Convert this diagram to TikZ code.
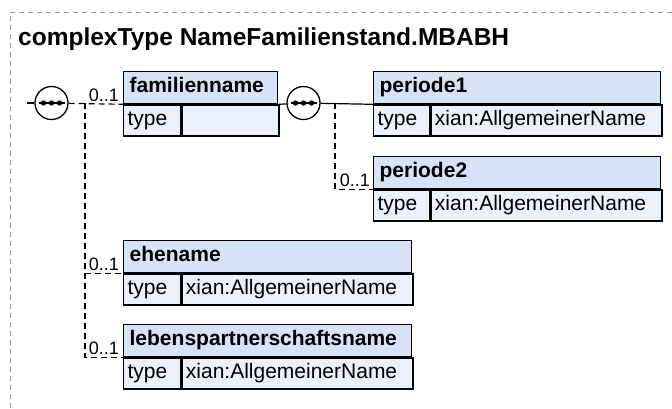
\documentclass[tikz,border=0pt]{standalone}
\usepackage{fontspec}
\setmainfont{Liberation Sans}
\usetikzlibrary{positioning}
\definecolor{headfill}{RGB}{214,227,247}
\definecolor{bodyfill}{RGB}{234,241,252}

\begin{document}
\begin{tikzpicture}[
  x=1pt,y=1pt,
  frame/.style={draw=gray!80,dash pattern=on 5pt off 4pt,line width=1pt},
  head/.style={draw,fill=headfill,anchor=north west,align=left,text width=#1,
    font=\fontsize{21}{25}\selectfont\bfseries,inner xsep=6pt,inner ysep=0pt,
    minimum height=32pt,text height=15pt,text depth=5pt,line width=1.3pt},
  cell/.style={draw,fill=bodyfill,anchor=north west,align=left,text width=#1,
    font=\fontsize{21}{25}\selectfont,inner xsep=4pt,inner ysep=0pt,
    minimum height=31pt,text height=15pt,text depth=5pt,line width=1.3pt},
  seq/.style={circle,draw,fill=white,minimum size=33pt,inner sep=0pt,line width=1.3pt},
  req/.style={line width=1.2pt},
  opt/.style={line width=1.2pt,dash pattern=on 6pt off 4pt},
  card/.style={font=\fontsize{18}{21}\selectfont,inner sep=0pt}
]
  \useasboundingbox (0,0) rectangle (672,-408);
  \draw[frame] (10,-408) -- (10,-12) -- (672,-12);

  \node[anchor=base west,inner sep=0pt,font=\fontsize{24.5}{29}\selectfont\bfseries]
    (title) at (18,-45) {complexType NameFamilienstand.MBABH};

  % sequence compositors
  \node[seq] (seqA) at (51.5,-103) {};
  \node[seq] (seqB) at (303.5,-103) {};
  \foreach \s in {seqA,seqB} {
    \draw[line width=1.2pt] ([xshift=-13pt]\s.center) -- ([xshift=13pt]\s.center);
    \foreach \dx in {-8,0,8}
      \fill ([xshift=\dx pt]\s.center) circle (2.7pt);
  }
  \coordinate (in) at (27,-103);
  \coordinate (forkA) at (85,-103);
  \coordinate (forkB) at (335,-103);

  % familienname
  \node[head=142pt] (famH) at (123,-71) {familienname};
  \node[cell=49pt] (famT) at (famH.south west) {type};
  \node[cell=89pt] (famV) at (famT.north east) {};

  % periode1 / periode2
  \node[head=275pt] (perAH) at (373,-71) {periode1};
  \node[cell=48pt] (perAT) at (perAH.south west) {type};
  \node[cell=223pt] (perAV) at (perAT.north east) {xian:AllgemeinerName};

  \node[head=275pt] (perBH) at (373,-156) {periode2};
  \node[cell=48pt] (perBT) at (perBH.south west) {type};
  \node[cell=223pt] (perBV) at (perBT.north east) {xian:AllgemeinerName};

  % ehename / lebenspartnerschaftsname
  \node[head=276pt] (eheH) at (123,-240) {ehename};
  \node[cell=49pt] (eheT) at (eheH.south west) {type};
  \node[cell=223pt] (eheV) at (eheT.north east) {xian:AllgemeinerName};

  \node[head=276pt] (lebH) at (123,-324) {lebenspartnerschaftsname};
  \node[cell=49pt] (lebT) at (lebH.south west) {type};
  \node[cell=223pt] (lebV) at (lebT.north east) {xian:AllgemeinerName};

  % connectors
  \draw[req] (in) -- (seqA);
  \draw[opt] (seqA) -- (famH.south west);
  \draw[opt] (forkA) |- (eheH.south west);
  \draw[opt] (forkA) |- (lebH.south west);
  \draw[req] (famH.south east) -- (seqB);
  \draw[req] (seqB) -- (perAH.south west);
  \draw[opt] (forkB) |- (perBH.south west);

  % cardinalities
  \node[card,above left=2pt and 4pt of famH.south west] (famC) {0..1};
  \node[card,above left=2pt and 3pt of perBH.south west] (perBC) {0..1};
  \node[card,above left=2pt and 4pt of eheH.south west] (eheC) {0..1};
  \node[card,above left=2pt and 4pt of lebH.south west] (lebC) {0..1};
\end{tikzpicture}
\end{document}
